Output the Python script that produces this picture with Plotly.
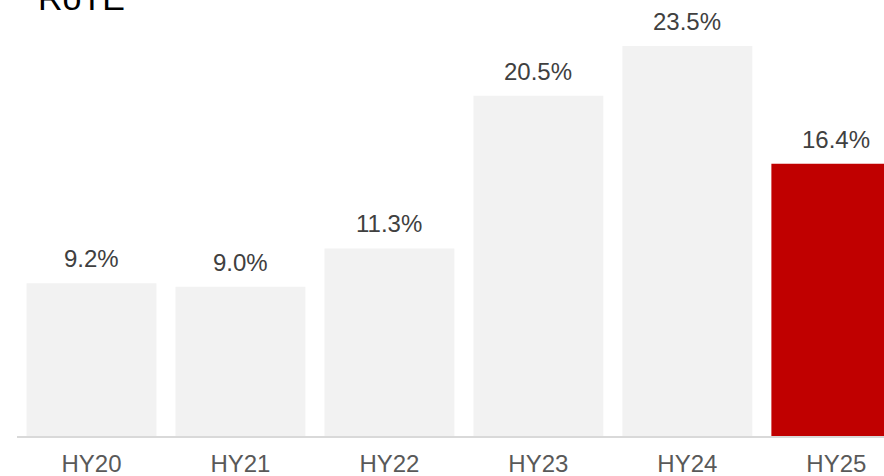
import plotly.graph_objects as go

categories = ["HY20", "HY21", "HY22", "HY23", "HY24", "HY25"]
rote = [9.2, 9.0, 11.3, 20.5, 23.5, 16.4]
labels = ["9.2%", "9.0%", "11.3%", "20.5%", "23.5%", "16.4%"]
title_text = "RoTE"

colors = ["#f2f2f2"] * 5 + ["#c00000"]

fig = go.Figure()
fig.add_trace(go.Bar(
    x=list(range(len(categories))), y=rote, marker=dict(color=colors, line=dict(width=0)),
    width=0.872, hoverinfo="skip",
))

for i, (v, t) in enumerate(zip(rote, labels)):
    fig.add_annotation(x=i, y=v, text=t, showarrow=False, yanchor="bottom",
                       yshift=9, font=dict(family="Liberation Sans, Arial", size=24, color="#404040"))

fig.add_annotation(xref="paper", yref="paper", x=0.0219, y=1, xanchor="left", yanchor="bottom",
                   yshift=-19, text=title_text, showarrow=False,
                   font=dict(family="Liberation Sans, Arial", size=34, color="#000000"))

fig.update_layout(
    width=884, height=476,
    margin=dict(l=17, r=0, t=0, b=40),
    paper_bgcolor="white", plot_bgcolor="white",
    showlegend=False,
    xaxis=dict(range=[-0.5, 5.32], tickmode="array", tickvals=list(range(len(categories))),
               ticktext=categories, showgrid=False, zeroline=False, showline=True,
               linecolor="#d9d9d9", linewidth=2,
               tickfont=dict(family="Liberation Sans, Arial", size=24, color="#595959"), ticks="",
               ticklen=0, ticklabelstandoff=5),
    yaxis=dict(range=[0, 26.27], visible=False, showgrid=False, zeroline=False),
)

fig.write_html("out.html", config={"displayModeBar": False},
               post_script="document.body.style.margin='0';")
